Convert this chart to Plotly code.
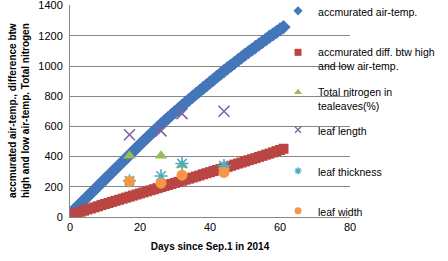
import plotly.graph_objects as go

# ---- data ----
days_daily = list(range(0, 62))
acc_air_temp = [20, 43, 66, 89, 112, 135, 158, 181, 204, 227, 250, 273, 296, 319, 342, 365,
                388, 411, 434, 457, 480, 503, 525, 547, 569, 591, 613, 634, 655, 676, 696,
                716, 736, 756, 776, 796, 815, 834, 853, 872, 891, 910, 929, 948, 967, 985,
                1003, 1021, 1039, 1057, 1075, 1092, 1109, 1126, 1143, 1160, 1177, 1194,
                1210, 1226, 1242, 1258]
acc_diff_temp = [12, 20, 27, 35, 42, 50, 57, 64, 71, 79, 86, 93, 100, 107, 114, 121, 128, 135,
                 142, 149, 156, 163, 170, 177, 184, 191, 198, 205, 212, 219, 226, 233, 240,
                 247, 254, 261, 268, 275, 283, 290, 297, 304, 311, 318, 325, 332, 339, 347,
                 354, 361, 368, 376, 383, 390, 398, 405, 413, 420, 428, 436, 444, 452]

sample_days = [17, 26, 32, 44]
total_nitrogen = [406, 406, 345, 335]
leaf_length = [545, 570, 685, 700]
leaf_thickness = [240, 272, 354, 340]
leaf_width = [236, 224, 277, 295]

names = ["accmurated air-temp.",
         "accmurated diff. btw high<br>and low air-temp.",
         "Total nitrogen in<br>tealeaves(%)",
         "leaf length",
         "leaf thickness",
         "leaf width"]

FONT = "Liberation Sans"

series = [
    (days_daily, acc_air_temp, "diamond", 11, "#4377BA", 7),
    (days_daily, acc_diff_temp, "square", 10, "#BA4542", 7),
    (sample_days, total_nitrogen, "triangle-up", 11, "#9BBB59", 7),
    (sample_days, leaf_length, "x-thin", 11, "#8064A2", 6),
    (sample_days, leaf_thickness, "asterisk", 11, "#4BACC6", 6),
    (sample_days, leaf_width, "circle", 11, "#F79646", 7),
]
legend_ids = ["legend", "legend2", "legend3", "legend4", "legend5", "legend6"]

fig = go.Figure()
for (xs, ys, sym, size, col, lsize), name, lid in zip(series, names, legend_ids):
    line = dict(width=1.6, color=col) if sym in ("x-thin", "asterisk") else dict(width=0)
    fig.add_trace(go.Scatter(x=xs, y=ys, mode="markers", name=name, showlegend=False,
                             marker=dict(symbol=sym, size=size, color=col, line=line)))
for (xs, ys, sym, size, col, lsize), name, lid in zip(series, names, legend_ids):
    line = dict(width=1.3, color=col) if sym in ("x-thin", "asterisk") else dict(width=0)
    fig.add_trace(go.Scatter(x=[None], y=[None], mode="markers", name=name, showlegend=True,
                             legend=lid,
                             marker=dict(symbol=sym, size=lsize, color=col, line=line)))

PLOT_TOP, PLOT_BOTTOM = 5, 217
def py(pix):
    return (PLOT_BOTTOM - pix) / (PLOT_BOTTOM - PLOT_TOP)

def leg(pix):
    return dict(x=0.743, xanchor="left", y=py(pix), yanchor="middle", xref="paper", yref="paper",
                bgcolor="rgba(0,0,0,0)", borderwidth=0, valign="top",
                font=dict(family=FONT, size=10.5, color="#000000"),
                itemsizing="trace", tracegroupgap=0, visible=True)

fig.update_layout(
    width=448, height=261,
    showlegend=True,
    margin=dict(l=70, r=98, t=PLOT_TOP, b=261 - PLOT_BOTTOM, autoexpand=False),
    paper_bgcolor="white", plot_bgcolor="white",
    font=dict(family=FONT, size=11, color="#000000"),
    legend=leg(12), legend2=leg(59.5), legend3=leg(99.5),
    legend4=leg(131), legend5=leg(172), legend6=leg(212),
    xaxis=dict(range=[0, 80], dtick=20, showgrid=False, zeroline=False,
               showline=True, linecolor="#868686", linewidth=1,
               tickfont=dict(family=FONT, size=11, color="#000000"),
               title=dict(text="<b>Days since Sep.1 in 2014</b>",
                          font=dict(family=FONT, size=10, color="#000000"), standoff=10)),
    yaxis=dict(range=[0, 1404], tick0=0, dtick=200, showgrid=True, gridcolor="#868686", gridwidth=1,
               zeroline=False, showline=True, linecolor="#868686", linewidth=1,
               ticklabeloverflow="allow",
               tickfont=dict(family=FONT, size=11, color="#000000"), ticklabelstandoff=4),
    annotations=[dict(text="<b>accmurated air-temp., difference btw<br>high and low air-temp. Total nitrogen</b>",
                      xref="paper", yref="paper", x=-0.182, y=0.5, xanchor="center", yanchor="middle",
                      textangle=-90, showarrow=False,
                      font=dict(family=FONT, size=10, color="#000000"))],
)

fig.write_html("out.html", config={"displayModeBar": False},
               post_script="document.body.style.margin='0';document.body.style.overflow='hidden';")
